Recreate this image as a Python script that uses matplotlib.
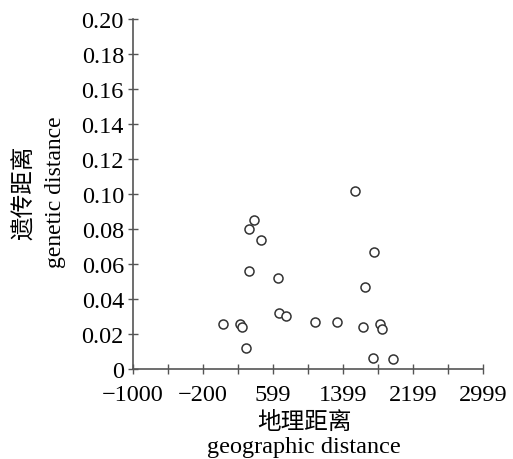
import matplotlib
matplotlib.use('Agg')
import matplotlib.pyplot as plt
import numpy as np

plt.rcParams['font.family'] = ['Liberation Serif', 'Noto Sans CJK SC']

# geographic distance vs genetic distance
geo_dist = [33, 224, 250, 296, 327, 327, 385, 457, 660, 663, 751,
            1084, 1328, 1542, 1756, 1649, 1630, 1817, 1848, 1740, 1974]
gen_dist = [0.026, 0.026, 0.024, 0.012, 0.056, 0.080, 0.085, 0.074, 0.052, 0.032, 0.0305,
            0.027, 0.027, 0.1015, 0.067, 0.047, 0.024, 0.026, 0.023, 0.0063, 0.006]

x_ticks = np.linspace(-1000, 2999, 11)
x_labels = ['\u22121000', '', '\u2212200', '', '599', '', '1399', '', '2199', '', '2999']
y_ticks = np.arange(0, 0.201, 0.02)
y_labels = ['0'] + ['%.2f' % v for v in y_ticks[1:]]

fig = plt.figure(figsize=(5.13, 4.60), dpi=100)
ax = fig.add_axes([133 / 513, 90 / 460, 350 / 513, 350 / 460])

ax.plot(geo_dist, gen_dist, 'o', markersize=6.5, markerfacecolor='white',
        markeredgecolor='#333333', markeredgewidth=1.1, clip_on=False)

ax.set_xlim(-1000, 2999)
ax.set_ylim(0, 0.2)
ax.set_xticks(x_ticks)
ax.set_xticklabels(x_labels)
ax.set_yticks(y_ticks)
ax.set_yticklabels(y_labels)

for s in ['top', 'right']:
    ax.spines[s].set_visible(False)
for s in ['left', 'bottom']:
    ax.spines[s].set_color('#555555')
    ax.spines[s].set_linewidth(1.2)

ax.tick_params(direction='inout', length=7, width=1, color='#555555',
               labelsize=17.5, labelcolor='black')
ax.tick_params(axis='x', pad=7)
ax.tick_params(axis='y', pad=3)

fig.text(25 / 513, 1 - 193 / 460, '遗传距离', rotation=90, ha='center', va='center',
         fontsize=17, family=['Noto Sans CJK SC'])
fig.text(56 / 513, 1 - 192 / 460, 'genetic distance', rotation=90, ha='center', va='center',
         fontsize=17)
fig.text(304 / 513, 1 - 422 / 460, '地理距离', ha='center', va='center',
         fontsize=17, family=['Noto Sans CJK SC'])
fig.text(304 / 513, 1 - 448 / 460, 'geographic distance', ha='center', va='center',
         fontsize=17.5)

fig.savefig('out.png', dpi=100)
